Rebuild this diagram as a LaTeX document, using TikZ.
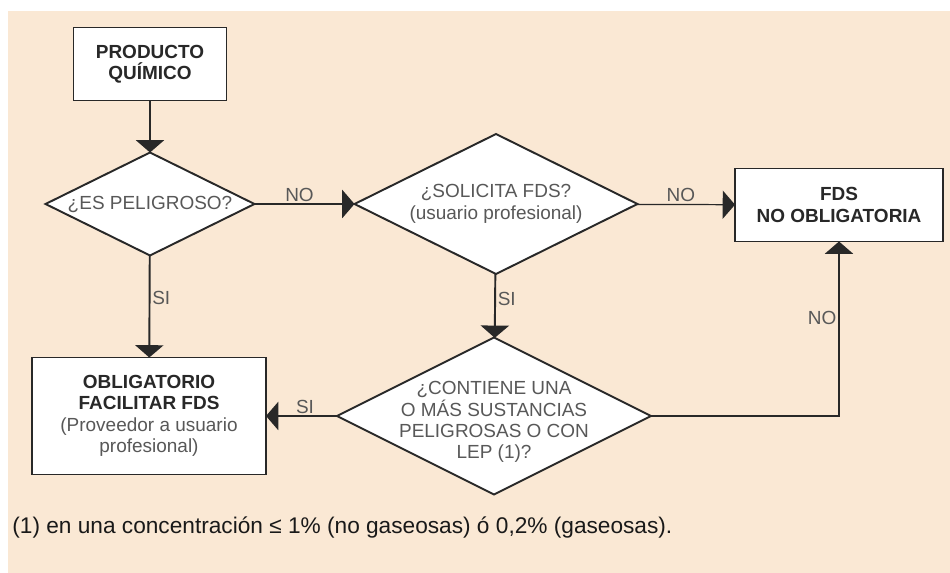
\documentclass[tikz,border=0pt]{standalone}
\usepackage{fontspec}
\setmainfont{Liberation Sans}
\usetikzlibrary{shapes.geometric,arrows.meta}
\definecolor{fondo}{RGB}{250,232,212}
\definecolor{tinta}{RGB}{40,40,40}
\definecolor{gris}{RGB}{88,88,88}

\begin{document}
\begin{tikzpicture}[x=0.02cm,y=-0.02cm,
        texto/.style={font=\fontsize{10.8}{12.2}\selectfont},
        caja/.style={draw=tinta,line width=1.1pt,fill=white,align=center,
            inner sep=0pt,outer sep=0pt,texto},
        negrita/.style={text=tinta,font=\fontsize{10.8}{12.2}\selectfont\bfseries},
        decision/.style={diamond,draw=tinta,line width=1.1pt,fill=white,align=center,
            inner sep=0pt,outer sep=0pt,shape aspect=2,text=gris,texto},
        flecha/.style={draw=tinta,line width=1.1pt,-{Triangle[width=16pt,length=7pt]}},
        fina/.style={line width=0.7pt},
        etiqueta/.style={text=gris,texto,inner sep=1pt}]
        % fondo y margenes
        \useasboundingbox (0,0) rectangle (950,573);
        \fill [fondo] (8,11) rectangle (950,573);

        % cajas
        \node [caja,negrita,minimum width=3.06cm,minimum height=1.46cm] (producto) at (150,64) {PRODUCTO\\QUÍMICO};
        \node [caja,negrita,minimum width=4.16cm,minimum height=1.46cm] (fds) at (839,205) {FDS\\NO OBLIGATORIA};
        \node [caja,minimum width=4.68cm,minimum height=2.34cm] (obligatorio) at (149,416)
            {\textbf{\color{tinta}OBLIGATORIO}\\\textbf{\color{tinta}FACILITAR FDS}\\{\color{gris}(Proveedor a usuario}\\{\color{gris}profesional)}};

        % rombos de decision
        \node [decision,minimum width=4.18cm,minimum height=2.06cm] (peligroso) at (150,204) {¿ES PELIGROSO?};
        \node [decision,minimum width=5.66cm,minimum height=2.8cm] (solicita) at (496,204) {¿SOLICITA FDS?\\(usuario profesional)};
        \node [decision,minimum width=6.12cm,minimum height=3.08cm,inner sep=-6pt] (contiene) at (494,416)
            {\rule{0pt}{14.5pt}¿CONTIENE UNA\\O MÁS SUSTANCIAS\\PELIGROSAS O CON\\LEP (1)?};

        % flechas
        \draw [flecha,fina] (producto) -- (peligroso);
        \draw [flecha] (peligroso) -- node [etiqueta,above,pos=.45] {NO} (solicita);
        \draw [flecha,fina] (solicita) -- node [etiqueta,above,pos=.45] {NO} (fds);
        \draw [flecha] (peligroso) -- node [etiqueta,right,pos=.42] {SI} (obligatorio);
        \draw [flecha] (solicita) -- node [etiqueta,right,pos=.4] {SI} (contiene);
        \draw [flecha] (contiene) -- node [etiqueta,above,pos=.45] {SI} (obligatorio);
        % vuelta a FDS
        \draw [flecha,line width=0.9pt] (contiene.east) -| node [etiqueta,left,pos=.78] {NO} (fds.south);

        % nota al pie
        \node [anchor=base west,inner sep=0pt,text=black!90,font=\fontsize{12.9}{15}\selectfont] (nota) at (12,534)
            {(1) en una concentración ≤ 1\% (no gaseosas) ó 0,2\% (gaseosas).};
\end{tikzpicture}
\end{document}
